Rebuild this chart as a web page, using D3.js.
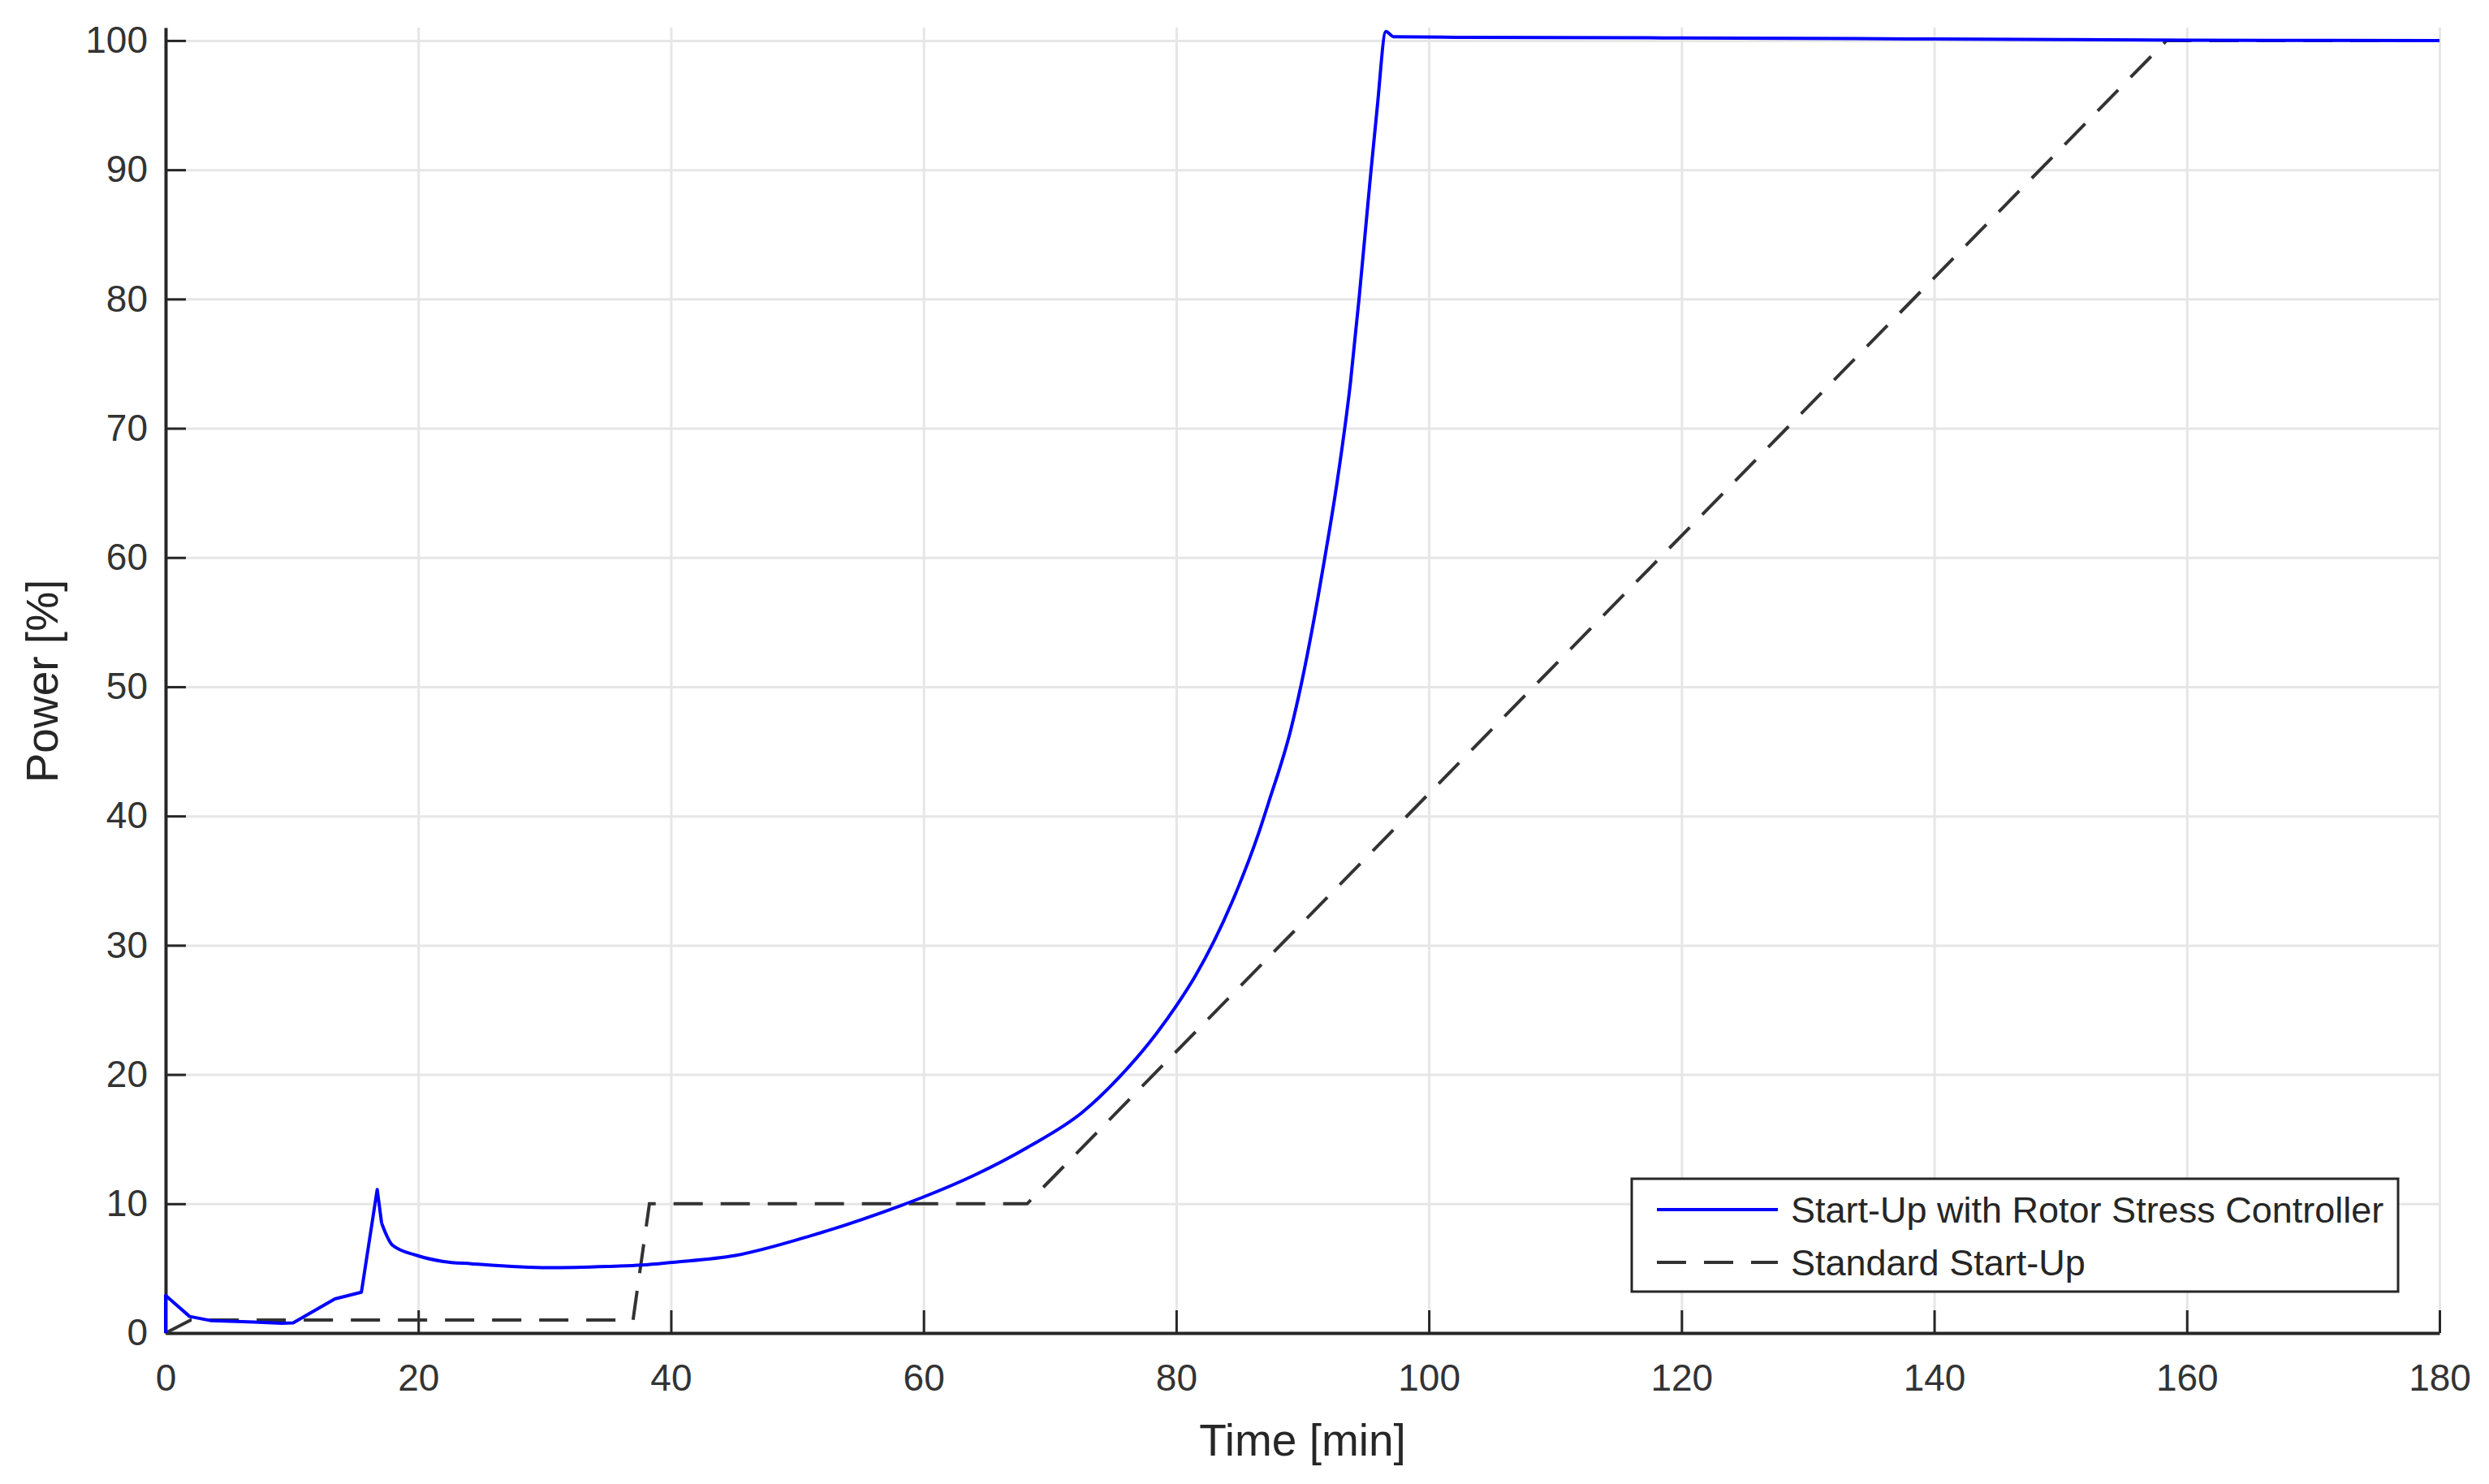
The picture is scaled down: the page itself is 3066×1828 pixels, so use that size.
<!DOCTYPE html>
<html lang="en">
  <head>
    <title>Start-Up Power</title>
    <meta charset="UTF-8">
    <script src="https://d3js.org/d3.v7.min.js"></script>
    <style>
      * {
        margin: 0;
        padding: 0;
      }
      body {
        background-color: white;
      }
      svg {
        display: block;
        font-family: 'Liberation Sans', Arial, sans-serif;
      }
    </style>
  </head>
  <body>
    <script>
      // values
      const timeRsc = [0, 0, 1.9, 3.6, 7, 9.2, 10.1, 13.4, 15.5, 16.75, 17.1, 17.95, 19.9, 22, 24.2, 30.3, 35, 37.7, 40.1, 45.1, 51.2, 58.2, 59.9, 64, 68.3, 72.6, 75.4, 77.9, 80, 81.5, 84.4, 86.5, 87.3, 89.1, 89.9, 91.2, 91.8, 92.7, 93.8, 94.5, 95.3, 95.9, 96.6, 97.2, 102.6, 120, 140, 160, 180]
      const powerRsc = [0, 2.9, 1.28, 0.96, 0.85, 0.75, 0.79, 2.64, 3.16, 11.1, 8.5, 6.8, 6.0, 5.53, 5.36, 5.05, 5.15, 5.26, 5.47, 6.0, 7.56, 9.86, 10.49, 12.2, 14.4, 17.1, 19.7, 22.5, 25.3, 27.6, 33.3, 38.6, 41.0, 46.8, 50.2, 56.8, 60.2, 65.6, 73.6, 80.3, 88.7, 94.7, 100.7, 100.3, 100.25, 100.2, 100.12, 100.03, 100]

      const timeStd = [0, 2, 37, 38.3, 68.2, 158.4, 180]
      const powerStd = [0, 1, 1, 10, 10, 100, 100]

      const xTicks = [0, 20, 40, 60, 80, 100, 120, 140, 160, 180]
      const yTicks = [0, 10, 20, 30, 40, 50, 60, 70, 80, 90, 100]

      const seriesNames = ['Start-Up with Rotor Stress Controller', 'Standard Start-Up']

      const width = 3066
      const height = 1828
      const margin = {top: 34, right: 61, bottom: 186, left: 204}
      const innerW = width - margin.left - margin.right
      const innerH = height - margin.top - margin.bottom

      const axisColor = '#262626'
      const blue = '#0000ff'
      const dashColor = '#333'

      const xScale = d3.scaleLinear().domain([0, 180]).range([0, innerW])
      const yScale = d3.scaleLinear().domain([0, 101]).range([innerH, 0])

      const svg = d3.select('body')
                    .append('svg')
                    .attr('width', width)
                    .attr('height', height)

      const g = svg.append('g')
                   .attr('transform', 'translate(' + margin.left + ',' + margin.top + ')')

      // grid
      g.append('g')
       .attr('transform', 'translate(0,' + innerH + ')')
       .call(d3.axisBottom(xScale).tickValues(xTicks).tickSize(-innerH).tickFormat(''))
       .call(a => a.select('.domain').remove())
       .selectAll('line')
       .attr('stroke', '#e6e6e6')
       .attr('stroke-width', 3)

      g.append('g')
       .call(d3.axisLeft(yScale).tickValues(yTicks).tickSize(-innerW).tickFormat(''))
       .call(a => a.select('.domain').remove())
       .selectAll('line')
       .attr('stroke', '#e6e6e6')
       .attr('stroke-width', 3)

      // axes
      const xAxis = g.append('g')
                     .attr('transform', 'translate(0,' + innerH + ')')
                     .call(d3.axisBottom(xScale).tickValues(xTicks).tickSizeInner(-28).tickSizeOuter(0).tickPadding(38))

      const yAxis = g.append('g')
                     .call(d3.axisLeft(yScale).tickValues(yTicks).tickSizeInner(-25).tickSizeOuter(0).tickPadding(22))

      for (const ax of [xAxis, yAxis]) {
        ax.attr('font-family', null).attr('font-size', null)
        ax.select('.domain').attr('stroke', axisColor).attr('stroke-width', 4)
        ax.selectAll('.tick line').attr('stroke', axisColor).attr('stroke-width', 3)
        ax.selectAll('.tick text')
          .attr('fill', '#333')
          .style('font-size', '46px')
      }

      // axis titles
      svg.append('text')
         .text('Time [min]')
         .attr('x', margin.left + innerW / 2)
         .attr('y', 1793)
         .attr('text-anchor', 'middle')
         .attr('fill', axisColor)
         .style('font-size', '55px')

      svg.append('text')
         .text('Power [%]')
         .attr('transform', 'translate(71,839) rotate(-90)')
         .attr('text-anchor', 'middle')
         .attr('fill', axisColor)
         .style('font-size', '55px')

      // lines
      const line = d3.line()
                     .x(d => xScale(d[0]))
                     .y(d => yScale(d[1]))
      const smooth = d3.line()
                       .x(d => xScale(d[0]))
                       .y(d => yScale(d[1]))
                       .curve(d3.curveMonotoneX)

      g.append('path')
       .datum(timeStd.map((t, i) => [t, powerStd[i]]))
       .attr('d', line)
       .attr('fill', 'none')
       .attr('stroke', dashColor)
       .attr('stroke-width', 4)
       .attr('stroke-dasharray', '36,22')

      // sharp start (spike) drawn straight, the rest smoothed
      const rsc = timeRsc.map((t, i) => [t, powerRsc[i]])
      const split = timeRsc.indexOf(17.1)

      g.append('path')
       .datum(rsc.slice(0, split + 1))
       .attr('d', line)
       .attr('fill', 'none')
       .attr('stroke', blue)
       .attr('stroke-width', 4)
       .attr('stroke-linejoin', 'round')

      g.append('path')
       .datum(rsc.slice(split))
       .attr('d', smooth)
       .attr('fill', 'none')
       .attr('stroke', blue)
       .attr('stroke-width', 4)
       .attr('stroke-linejoin', 'round')

      // legend
      const legend = svg.append('g').attr('transform', 'translate(2010,1452)')
      legend.append('rect')
            .attr('width', 944)
            .attr('height', 139)
            .attr('fill', 'white')
            .attr('stroke', axisColor)
            .attr('stroke-width', 3)

      const legendStyles = [
        {stroke: blue, dash: null, w: 4},
        {stroke: dashColor, dash: '36,22', w: 4}
      ]

      seriesNames.forEach((name, i) => {
        const yy = 38 + i * 65
        legend.append('line')
              .attr('x1', 31).attr('x2', 180)
              .attr('y1', yy).attr('y2', yy)
              .attr('stroke', legendStyles[i].stroke)
              .attr('stroke-width', legendStyles[i].w)
              .attr('stroke-dasharray', legendStyles[i].dash)
        legend.append('text')
              .text(name)
              .attr('x', 196)
              .attr('y', yy + 16)
              .attr('fill', axisColor)
              .style('font-size', '45px')
      })
    </script>
  </body>
</html>
